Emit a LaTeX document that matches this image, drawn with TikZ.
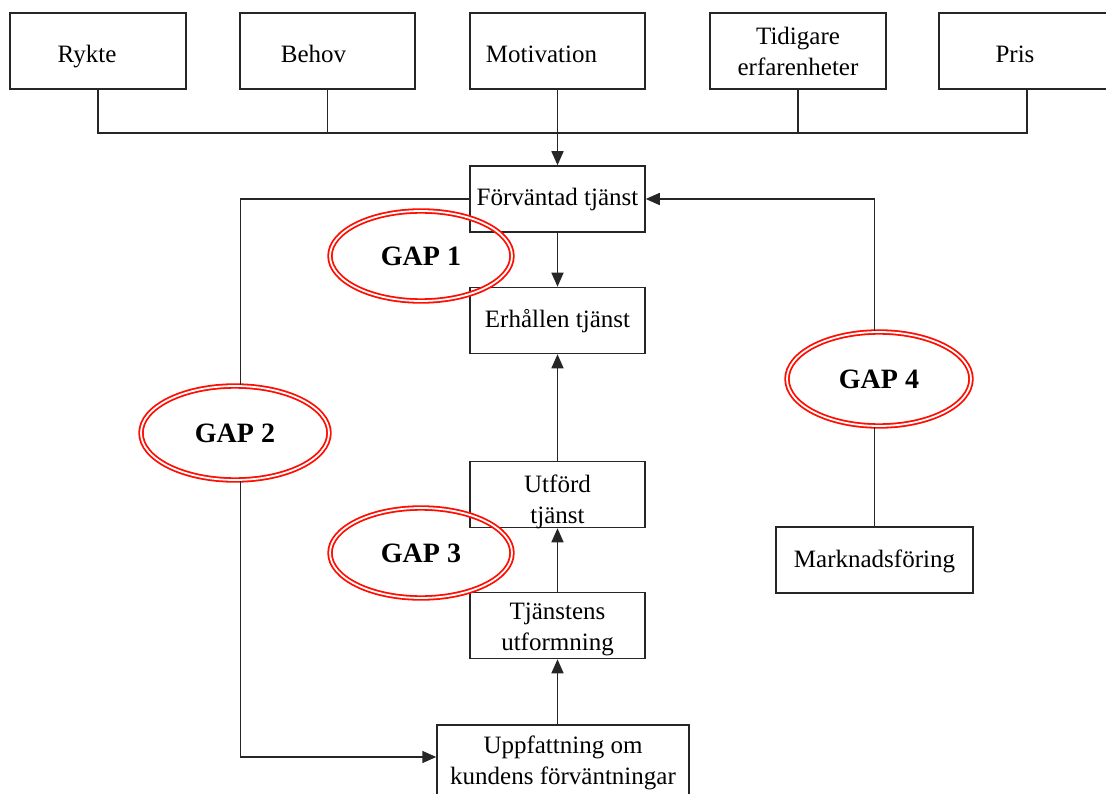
\documentclass[tikz,border=0pt]{standalone}
\usepackage{fontspec}
\setmainfont{Liberation Serif}
\usetikzlibrary{arrows.meta,shapes.geometric}
\begin{document}
\begin{tikzpicture}[x=1pt,y=-1pt,
  txt/.style={font=\fontsize{25}{31}\selectfont,align=center,inner sep=0pt},
  box/.style={draw=black!85,line width=1.5pt,minimum height=66pt,align=center,inner sep=2pt,font=\fontsize{25}{31}\selectfont},
  topline/.style={text height=26pt,text depth=2pt},
  midline/.style={text height=18pt,text depth=4pt},
  gap/.style={ellipse,draw=red!90!orange,double=white,double distance=1.8pt,line width=1.8pt,minimum width=182pt,minimum height=90pt,font=\fontsize{28}{32}\selectfont\bfseries},
  conn/.style={line width=1.5pt,draw=black!85},
  arr/.style={conn,-{Triangle[length=14pt,width=12pt]}}]
\useasboundingbox (0,0) rectangle (1106,794);
\begin{scope}
\clip (0,0) rectangle (1106,794);
% top boxes
\node[box,topline,minimum width=176pt,minimum height=76pt] (rykte) at (98,51) {Rykte\hspace*{22pt}};
\node[box,topline,minimum width=175pt,minimum height=76pt] (behov) at (327.5,51) {Behov\hspace*{28pt}};
\node[box,topline,minimum width=175pt,minimum height=76pt] (motiv) at (557.5,51) {Motivation\hspace*{32pt}};
\node[box,minimum width=176pt,minimum height=76pt] (tidig) at (798,51) {Tidigare\\erfarenheter};
\node[box,minimum width=176pt,minimum height=76pt] (pris) at (1027,51) {};
\node[txt,topline] (pristxt) at (1015,51) {Pris};
% middle column
\node[box,midline,minimum width=175pt] (forv) at (557.5,199) {Förväntad tjänst};
\node[box,midline,minimum width=175pt] (erh) at (557.5,320.5) {Erhållen tjänst};
\node[box,minimum width=175pt] (utf) at (557.5,494.5) {};
\node[txt] (utftxt) at (557.5,501.5) {Utförd\\tjänst};
\node[box,minimum width=175pt] (tjan) at (557.5,625.5) {};
\node[txt] (tjantxt) at (557.5,629.5) {Tjänstens\\utformning};
\node[box,minimum width=252pt,minimum height=90pt,anchor=north] (uppf) at (563,724) {};
\node[txt] (uppftxt) at (563,763) {Uppfattning om\\kundens förväntningar};
\node[box,midline,minimum width=197pt] (mark) at (874.5,560) {Marknadsföring};
% gaps
\node[gap] (g1) at (421,256) {GAP 1};
\node[gap,minimum width=188pt,minimum height=94pt] (g2) at (235,433) {GAP 2};
\node[gap] (g3) at (421,553) {GAP 3};
\node[gap,minimum width=184pt,minimum height=94pt] (g4) at (879,379) {GAP 4};
% bus
\coordinate (bus) at (557.5,133);
\draw[conn] (rykte.south) |- (pris.south |- bus) -- (pris.south);
\draw[conn] (behov.south) -- (behov.south |- bus);
\draw[conn] (tidig.south) -- (tidig.south |- bus);
\draw[arr] (motiv.south) -- (forv.north);
\draw[arr] (forv.south) -- (erh.north);
\draw[arr] (utf.north) -- (erh.south);
\draw[arr] (tjan.north) -- (utf.south);
\draw[arr] (uppf.north -| tjan.south) -- (tjan.south);
% left loop
\coordinate (lc) at (240.5,757);
\draw[conn] (forv.west) -| (g2.north -| lc);
\draw[arr] (g2.south -| lc) -- (lc) -- (uppf.west |- lc);
% right loop
\draw[arr] (g4.north -| mark.north) |- (forv.east);
\draw[conn] (mark.north) -- (g4.south -| mark.north);
\end{scope}
\end{tikzpicture}
\end{document}
